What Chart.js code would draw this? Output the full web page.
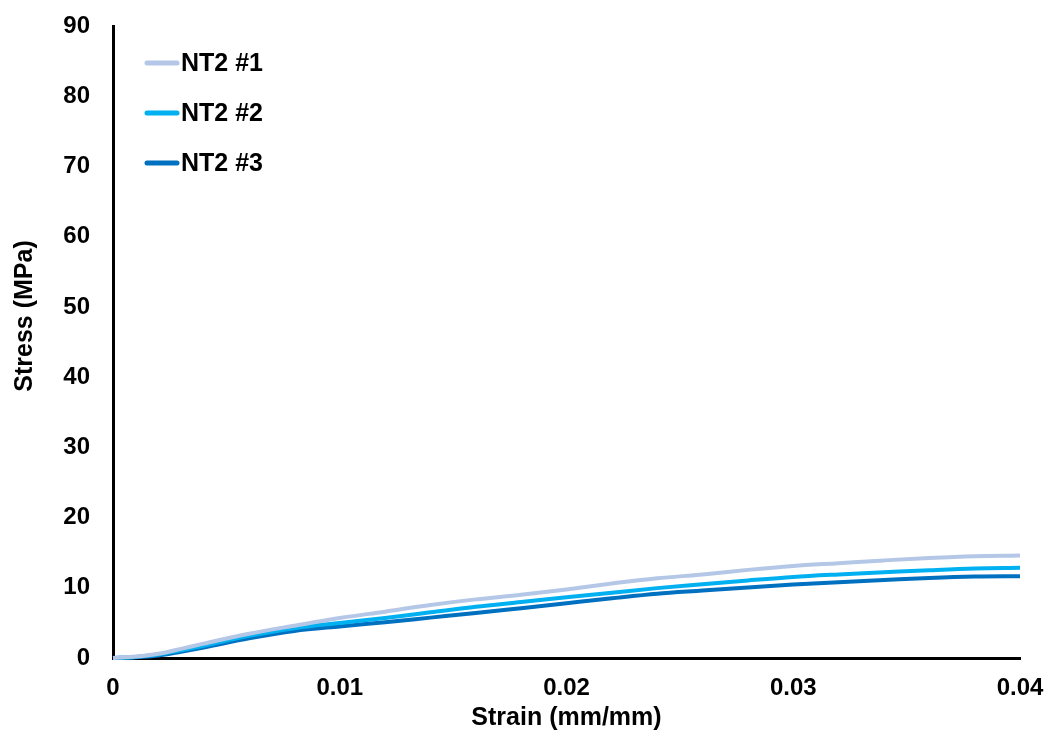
<!DOCTYPE html>
<html>
<head>
<meta charset="utf-8">
<script src="https://cdn.jsdelivr.net/npm/chart.js@4"></script>
<style>
  html, body { margin: 0; padding: 0; background: #fff; }
  #wrap { width: 1050px; height: 736px; }
</style>
</head>
<body>
<div id="wrap"><canvas id="c" width="1050" height="736"></canvas></div>
<script>
// Strain (mm/mm) sample points shared by all three specimens
const strain = [0, 0.001, 0.002, 0.003, 0.004, 0.006, 0.008, 0.010, 0.012, 0.014, 0.016, 0.018,
                0.020, 0.022, 0.024, 0.026, 0.028, 0.030, 0.032, 0.034, 0.036, 0.038, 0.040];

// Stress (MPa) for each specimen
const nt2_1 = [0, 0.2, 0.6, 1.3, 2.05, 3.45, 4.6, 5.7, 6.6, 7.55, 8.35, 9.0,
               9.75, 10.6, 11.35, 11.9, 12.55, 13.1, 13.5, 13.9, 14.25, 14.5, 14.6];
const nt2_2 = [0, 0.15, 0.5, 1.1, 1.75, 3.15, 4.25, 5.0, 5.7, 6.5, 7.3, 7.97,
               8.65, 9.3, 9.95, 10.5, 11.05, 11.55, 11.9, 12.2, 12.5, 12.75, 12.85];
const nt2_3 = [0, 0.1, 0.35, 0.9, 1.5, 2.8, 3.85, 4.5, 5.1, 5.75, 6.4, 7.1,
               7.8, 8.5, 9.15, 9.6, 10.05, 10.45, 10.8, 11.1, 11.4, 11.6, 11.65];

const seriesNames = ['NT2 #1', 'NT2 #2', 'NT2 #3'];
const seriesColors = ['#B4C7E7', '#00B0F0', '#0070C0'];

// Axis ticks
const xTicks = [0, 0.01, 0.02, 0.03, 0.04];
const xTickLabels = ['0', '0.01', '0.02', '0.03', '0.04'];
const yTicks = [0, 10, 20, 30, 40, 50, 60, 70, 80, 90];

const xTitle = 'Strain (mm/mm)';
const yTitle = 'Stress (MPa)';

const FONT = '"Liberation Sans", Arial, sans-serif';

function pts(ys) { return strain.map((x, i) => ({ x: x, y: ys[i] })); }

const datasets = [nt2_1, nt2_2, nt2_3].map((ys, i) => ({
  label: seriesNames[i],
  data: pts(ys),
  borderColor: seriesColors[i],
  backgroundColor: seriesColors[i],
  borderWidth: 4,
  pointRadius: 0,
  cubicInterpolationMode: 'monotone',
  fill: false,
  clip: false
}));

// Legend drawn inside the plot area, top-left, one entry per row
const insideLegend = {
  id: 'insideLegend',
  afterDraw(chart) {
    const ctx = chart.ctx, a = chart.chartArea;
    ctx.save();
    ctx.font = 'bold 25px ' + FONT;
    ctx.textBaseline = 'middle';
    ctx.textAlign = 'left';
    chart.data.datasets.forEach((ds, i) => {
      const y = a.top + 37 + i * 50;
      const x0 = a.left + 32;
      ctx.strokeStyle = ds.borderColor;
      ctx.lineWidth = 5;
      ctx.lineCap = 'round';
      ctx.beginPath();
      ctx.moveTo(x0 + 2, y);
      ctx.lineTo(x0 + 32, y);
      ctx.stroke();
      ctx.fillStyle = '#000';
      ctx.fillText(ds.label, x0 + 36, y + 1);
    });
    ctx.restore();
  }
};

// Axis titles
const axisTitles = {
  id: 'axisTitles',
  afterDraw(chart) {
    const ctx = chart.ctx, a = chart.chartArea;
    ctx.save();
    ctx.font = 'bold 25px ' + FONT;
    ctx.fillStyle = '#000';
    ctx.textAlign = 'center';
    ctx.textBaseline = 'middle';
    ctx.fillText(xTitle, (a.left + a.right) / 2, a.bottom + 60);
    ctx.translate(25, (a.top + a.bottom) / 2 - 26);
    ctx.rotate(-Math.PI / 2);
    ctx.fillText(yTitle, 0, 0);
    ctx.restore();
  }
};

// Let the layout padding alone decide the plot margins
function noLabelPadding(scale) {
  scale.paddingTop = 0;
  scale.paddingBottom = 0;
  scale.paddingLeft = 0;
  scale.paddingRight = 0;
}

new Chart(document.getElementById('c'), {
  type: 'line',
  data: { datasets: datasets },
  plugins: [insideLegend, axisTitles],
  options: {
    responsive: false,
    animation: false,
    layout: { padding: { top: 26, right: 30, left: 0, bottom: 0 } },
    plugins: { legend: { display: false }, tooltip: { enabled: false } },
    scales: {
      x: {
        type: 'linear',
        min: 0, max: 0.04,
        afterBuildTicks(scale) { scale.ticks = xTicks.map(v => ({ value: v })); },
        afterFit(scale) { scale.height = 78; noLabelPadding(scale); },
        grid: { display: false, drawTicks: false },
        border: { display: true, color: '#000', width: 3 },
        ticks: {
          padding: 16,
          color: '#000',
          font: { family: FONT, size: 24, weight: 'bold' },
          callback: (v) => { const k = xTicks.indexOf(v); return k >= 0 ? xTickLabels[k] : ''; }
        }
      },
      y: {
        type: 'linear',
        min: 0, max: 90,
        afterBuildTicks(scale) { scale.ticks = yTicks.map(v => ({ value: v })); },
        afterFit(scale) { scale.width = 113; noLabelPadding(scale); },
        grid: { display: false, drawTicks: false },
        border: { display: true, color: '#000', width: 3 },
        ticks: {
          padding: 23,
          color: '#000',
          font: { family: FONT, size: 24, weight: 'bold' }
        }
      }
    }
  }
});
</script>
</body>
</html>
